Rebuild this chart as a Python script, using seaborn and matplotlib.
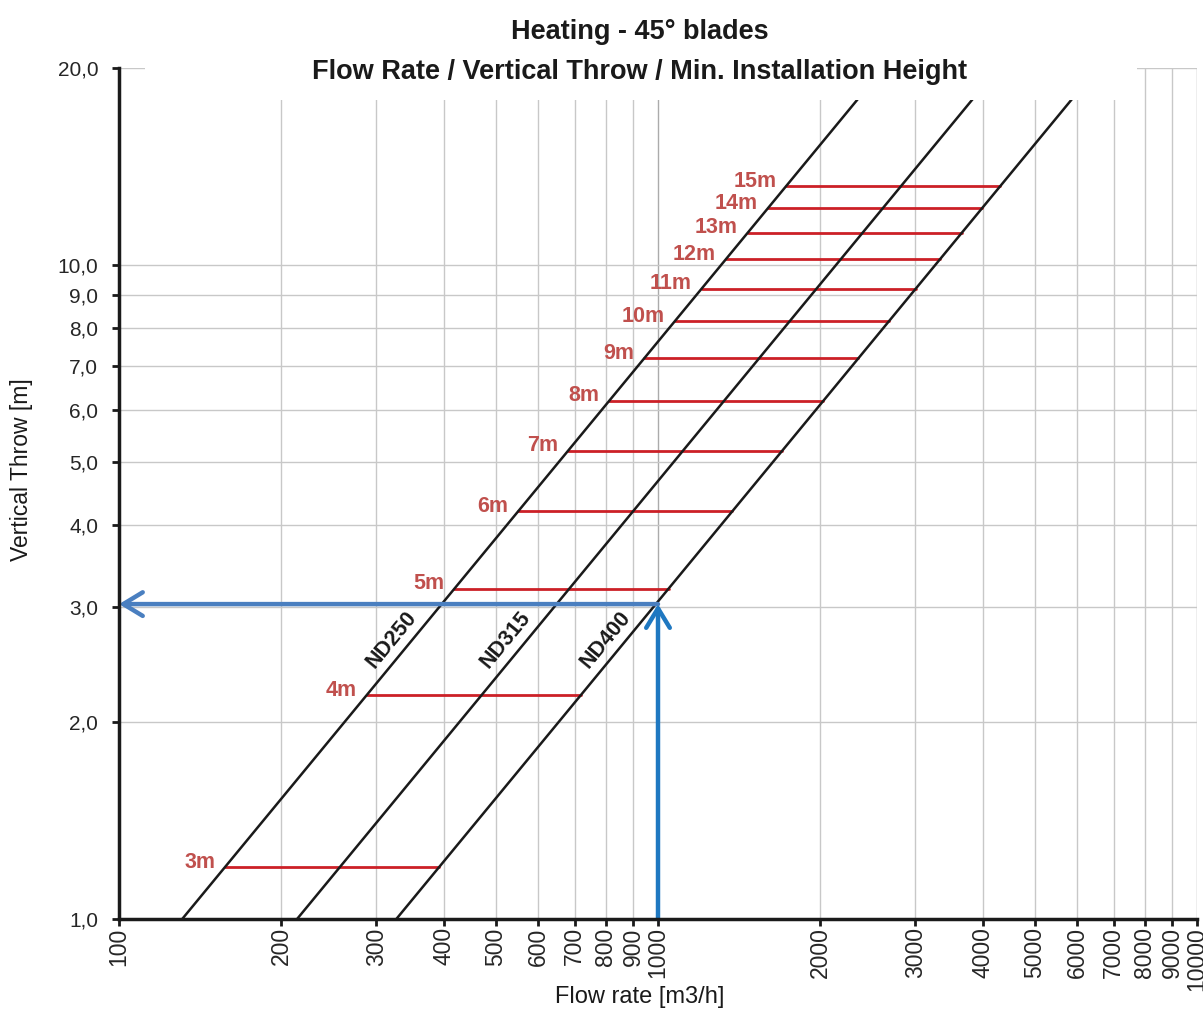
import matplotlib
matplotlib.use("Agg")
import matplotlib.pyplot as plt
from matplotlib.patches import Rectangle
import numpy as np
import pandas as pd
import seaborn as sns

# ---------------- data ----------------
nd_names = ["ND250", "ND315", "ND400"]
nd_flow_at_1m = [131, 214, 327]          # flow rate (m3/h) where throw = 1.0 m
nd_throw_range = [1.0, 20.0]             # lines drawn across full y-range (slope 1 in log-log)

install_heights = ["3m", "4m", "5m", "6m", "7m", "8m", "9m", "10m",
                   "11m", "12m", "13m", "14m", "15m"]
install_throws = [1.2, 2.2, 3.2, 4.2, 5.2, 6.2, 7.2, 8.2, 9.2, 10.2, 11.2, 12.2, 13.2]

example_flow = 1000
example_throw = 3.03

x_ticks = [100, 200, 300, 400, 500, 600, 700, 800, 900, 1000,
           2000, 3000, 4000, 5000, 6000, 7000, 8000, 9000, 10000]
y_ticks = [1, 2, 3, 4, 5, 6, 7, 8, 9, 10, 20]
y_tick_labels = ["1,0", "2,0", "3,0", "4,0", "5,0", "6,0", "7,0", "8,0", "9,0", "10,0", "20,0"]

title_line1 = "Heating - 45° blades"
title_line2 = "Flow Rate / Vertical Throw / Min. Installation Height"
x_label = "Flow rate [m3/h]"
y_label = "Vertical Throw [m]"

# ---------------- style ----------------
sns.set_style("white")
plt.rcParams["font.family"] = ["Liberation Sans", "DejaVu Sans"]

fig = plt.figure(figsize=(12.03, 10.10), dpi=100)
ax = fig.add_axes([119 / 1203, 91 / 1010, 1078 / 1203, 851 / 1010])
ax.set_xscale("log")
ax.set_yscale("log")
ax.set_xlim(100, 10000)
ax.set_ylim(1, 20)

# grid
grid_c = "#c8c8c8"
for xv in x_ticks:
    ax.axvline(xv, color="#ababab" if xv in (1000, 10000) else grid_c, lw=1.0, zorder=0.5)
for yv in y_ticks:
    ax.axhline(yv, color=grid_c, lw=1.0, zorder=0.5)

# diagonal ND lines
rows = []
for name, k in zip(nd_names, nd_flow_at_1m):
    for t in nd_throw_range:
        rows.append({"name": name, "flow": k * t, "throw": t})
df = pd.DataFrame(rows)
sns.lineplot(data=df, x="flow", y="throw", hue="name", estimator=None, sort=False,
             palette=["#1a1a1a"] * 3, lw=1.8, legend=False, ax=ax, zorder=3)

# red installation-height lines
red_line = "#cc2027"
red_text = "#c0504d"
for lab, t in zip(install_heights, install_throws):
    x0 = nd_flow_at_1m[0] * t
    x1 = nd_flow_at_1m[-1] * t
    ax.plot([x0, x1], [t, t], color=red_line, lw=2.0, zorder=2.5)
    ax.annotate(lab, xy=(x0, t), xytext=(-7, 3.5), textcoords="offset points",
                ha="right", va="center", color=red_text, fontsize=15.5,
                fontweight="bold", zorder=4)

# ND labels
for name, k in zip(nd_names, nd_flow_at_1m):
    tl = 2.67
    ax.annotate(name, xy=(k * tl, tl), xytext=(-15, 0), textcoords="offset points",
                ha="center", va="center", rotation=50.5, rotation_mode="anchor",
                fontsize=15.5, fontweight="bold", color="#1a1a1a", zorder=4)

# blue example arrows
ax.annotate("", xy=(100, example_throw), xytext=(example_flow, example_throw),
            arrowprops=dict(arrowstyle="->,head_length=1.4,head_width=0.85",
                            color="#4a7fc0", lw=3.2, shrinkA=0, shrinkB=0),
            zorder=5, annotation_clip=False)
ax.annotate("", xy=(example_flow, example_throw), xytext=(example_flow, 1.0),
            arrowprops=dict(arrowstyle="->,head_length=1.4,head_width=0.85",
                            color="#1f78c1", lw=3.2, shrinkA=0, shrinkB=0),
            zorder=5, annotation_clip=False)

# white title box covering top of plot area
ax.add_patch(Rectangle((0.024, 0.962), 0.92, 0.1, transform=ax.transAxes,
                       facecolor="white", edgecolor="none", zorder=6, clip_on=False))

# axes formatting
ax.set_xticks(x_ticks)
ax.set_xticklabels([str(v) for v in x_ticks], rotation=90, fontsize=16.5)
ax.set_xticks([], minor=True)
ax.set_yticks(y_ticks)
ax.set_yticklabels(y_tick_labels, fontsize=15)
ax.set_yticks([], minor=True)
ax.tick_params(axis="both", which="major", direction="out", length=5, width=2,
               color="#1a1a1a", labelcolor="#262626", left=True, bottom=True)
ax.tick_params(axis="y", pad=10)
ax.tick_params(axis="x", pad=1)
for s in ["top", "right"]:
    ax.spines[s].set_visible(False)
for s in ["left", "bottom"]:
    ax.spines[s].set_color("#1a1a1a")
    ax.spines[s].set_linewidth(2.5)
    ax.spines[s].set_zorder(7)

ax.set_xlabel(x_label, fontsize=17, color="#1a1a1a")
ax.xaxis.set_label_coords((640 - 119) / 1078, -(997 - 919) / 851)
ax.xaxis.label.set_va("center")
ax.set_ylabel(y_label, fontsize=16.5, color="#1a1a1a")
ax.yaxis.set_label_coords((22 - 119) / 1078, (919 - 470) / 851)
ax.yaxis.label.set_va("center")

fig.text(640 / 1203, 1 - 32 / 1010, title_line1, ha="center", va="center",
         fontsize=19.5, fontweight="bold", color="#1a1a1a")
fig.text(640 / 1203, 1 - 72 / 1010, title_line2, ha="center", va="center",
         fontsize=19.5, fontweight="bold", color="#1a1a1a")

fig.savefig("out.png", dpi=100, facecolor="white")
